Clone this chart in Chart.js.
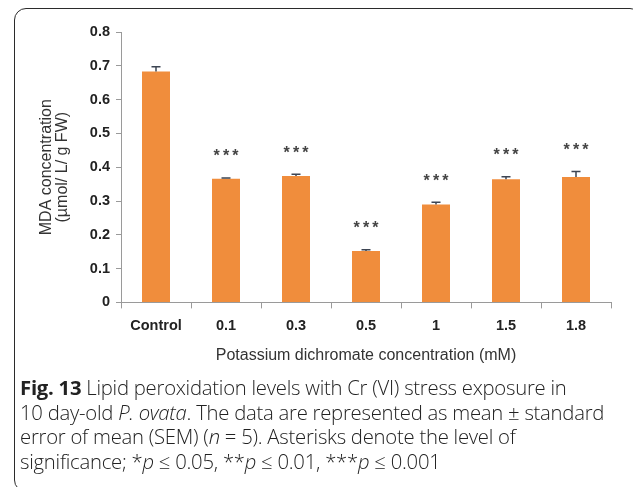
<!DOCTYPE html>
<html>
<head>
<meta charset="utf-8">
<script src="https://cdn.jsdelivr.net/npm/chart.js@4"></script>
<style>
  html, body { margin: 0; padding: 0; background: #fff; }
  body { width: 633px; height: 487px; position: relative; overflow: hidden; }
  .frame {
    position: absolute; left: 14px; top: 8px; width: 624px; height: 484px;
    border: 1.5px solid #2b2b2b; border-radius: 12px 8px 12px 12px;
    box-sizing: border-box;
  }
  .plot { position: absolute; left: 0; top: 0; width: 633px; height: 381px; }
  .caption {
    position: absolute; left: 20px; top: 375px; width: 612px;
    font-family: 'Open Sans', sans-serif; font-size: 20.3px; line-height: 24.5px;
    font-weight: 300; color: #222; letter-spacing: -0.25px; white-space: nowrap;
  }
  .caption b { font-weight: 700; }
</style>
</head>
<body>
<div class="frame"></div>
<div class="plot"><canvas id="mdaChart"></canvas></div>
<div class="caption">
  <b>Fig. 13</b> Lipid peroxidation levels with Cr (VI) stress exposure in<br>
  10 day-old <i>P. ovata</i>. The data are represented as mean ± standard<br>
  error of mean (SEM) (<i>n</i> = 5). Asterisks denote the level of<br>
  significance; *<i>p</i> ≤ 0.05, **<i>p</i> ≤ 0.01, ***<i>p</i> ≤ 0.001
</div>
<script>
// ---- data ----
const categories = ['Control', '0.1', '0.3', '0.5', '1', '1.5', '1.8'];
const mdaMean = [0.683, 0.366, 0.374, 0.152, 0.290, 0.364, 0.371];
const mdaSem = [0.014, 0.002, 0.005, 0.004, 0.006, 0.008, 0.016];
const signif = ['', '***', '***', '***', '***', '***', '***'];
const yTicks = [0, 0.1, 0.2, 0.3, 0.4, 0.5, 0.6, 0.7, 0.8];

const AXIS_FONT = "'Liberation Sans', Arial, sans-serif";

// ---- error bars + asterisks ----
const errorBarPlugin = {
  id: 'errorBars',
  afterDatasetsDraw(chart) {
    const { ctx, scales: { x, y } } = chart;
    ctx.save();
    categories.forEach((cat, i) => {
      const cx = x.getPixelForValue(i);
      const top = y.getPixelForValue(mdaMean[i] + mdaSem[i]);
      const base = y.getPixelForValue(mdaMean[i]);
      ctx.strokeStyle = '#3d4553';
      ctx.lineWidth = 1.5;
      ctx.beginPath();
      ctx.moveTo(cx, base);
      ctx.lineTo(cx, top);
      ctx.moveTo(cx - 4.5, top);
      ctx.lineTo(cx + 4.5, top);
      ctx.stroke();
      if (signif[i]) {
        ctx.fillStyle = '#444';
        ctx.font = `bold 16px ${AXIS_FONT}`;
        ctx.textAlign = 'center';
        ctx.textBaseline = 'middle';
        ctx.fillText(signif[i].split('').join('\u2009'), cx, top - 21);
      }
    });
    ctx.restore();
  }
};

window.addEventListener('DOMContentLoaded', () => {
  const ctx = document.getElementById('mdaChart');

  new Chart(ctx, {
    type: 'bar',
    data: {
      labels: categories,
      datasets: [{
        data: mdaMean,
        backgroundColor: '#f08d3c',
        borderWidth: 0,
        categoryPercentage: 1,
        barPercentage: 0.4,
      }]
    },
    options: {
      responsive: true,
      maintainAspectRatio: false,
      animation: false,
      layout: { padding: { top: 32, right: 22, left: 0, bottom: 12 } },
      plugins: { legend: { display: false }, tooltip: { enabled: false } },
      scales: {
        x: {
          grid: { drawOnChartArea: false, drawTicks: true, tickLength: 6, color: '#9a9a9a', offset: true },
          border: { color: '#9a9a9a', width: 1 },
          ticks: { color: '#222', font: { family: AXIS_FONT, size: 14.5, weight: 'bold' }, padding: 9 },
          title: {
            display: true,
            text: 'Potassium dichromate concentration (mM)',
            color: '#333',
            font: { family: AXIS_FONT, size: 16 },
            padding: { top: 2 },
          }
        },
        y: {
          min: 0,
          max: 0.8,
          afterBuildTicks(scale) { scale.ticks = yTicks.map(v => ({ value: v })); },
          afterFit(scale) { scale.width = 121; },
          grid: { drawOnChartArea: false, drawTicks: true, tickLength: 5, color: '#9a9a9a' },
          border: { color: '#9a9a9a', width: 1 },
          ticks: {
            color: '#222',
            font: { family: AXIS_FONT, size: 14.5, weight: 'bold' },
            padding: 6,
            callback: v => (v === 0 ? '0' : v.toFixed(1)),
          },
          title: {
            display: true,
            text: ['MDA concentration', '(µmol/ L/ g FW)'],
            color: '#333',
            font: { family: AXIS_FONT, size: 16, lineHeight: 1.0 },
            padding: { top: 39, bottom: 0 },
          }
        }
      }
    },
    plugins: [errorBarPlugin]
  });
});
</script>
</body>
</html>
